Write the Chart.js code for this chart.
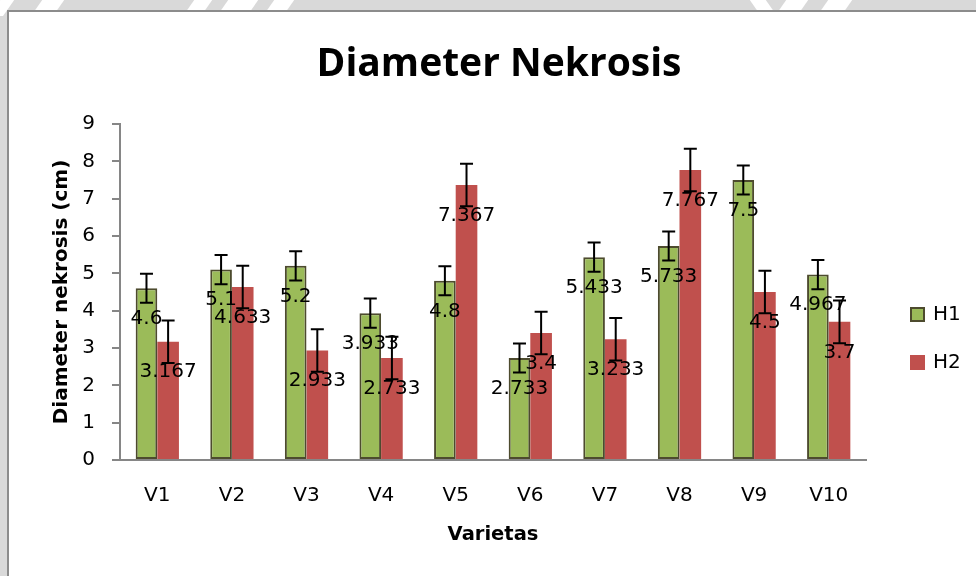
<!DOCTYPE html>
<html>
<head>
<meta charset="utf-8">
<script src="https://cdn.jsdelivr.net/npm/chart.js@4.4.1/dist/chart.umd.min.js"></script>
<style>
  html, body { margin: 0; padding: 0; }
  body { width: 976px; height: 576px; background: #d9d9d9; position: relative; overflow: hidden; }
  .streak { position: absolute; top: -4px; height: 20px; background: #fff; transform: skewX(-35deg); }
  #frame {
    position: absolute; left: 7px; top: 10px; width: 980px; height: 580px;
    background: #fff; border: 2px solid #8c8c8c;
  }
  #wrap { position: absolute; left: 9px; top: 12px; width: 967px; height: 564px; }
</style>
</head>
<body>
<!-- faint watermark strokes showing above the chart frame -->
<div class="streak" style="left:-4px;width:14px"></div>
<div class="streak" style="left:38px;width:22px"></div>
<div class="streak" style="left:190px;width:18px"></div>
<div class="streak" style="left:224px;width:30px"></div>
<div class="streak" style="left:270px;width:20px"></div>
<div class="streak" style="left:754px;width:16px;transform:skewX(35deg)"></div>
<div class="streak" style="left:782px;width:22px"></div>
<div class="streak" style="left:824px;width:24px"></div>
<div id="frame"></div>
<div id="wrap"><canvas id="chart" width="967" height="564"></canvas></div>
<script>
// values
const categories = ['V1', 'V2', 'V3', 'V4', 'V5', 'V6', 'V7', 'V8', 'V9', 'V10'];
const seriesNames = ['H1', 'H2'];
const h1Values = [4.6, 5.1, 5.2, 3.933, 4.8, 2.733, 5.433, 5.733, 7.5, 4.967];
const h2Values = [3.167, 4.633, 2.933, 2.733, 7.367, 3.4, 3.233, 7.767, 4.5, 3.7];
// error bar half-lengths (same for every bar of a series in the picture)
const h1Errors = [0.39, 0.39, 0.39, 0.39, 0.39, 0.39, 0.39, 0.39, 0.39, 0.39];
const h2Errors = [0.57, 0.57, 0.57, 0.57, 0.57, 0.57, 0.57, 0.57, 0.57, 0.57];
const yTicks = [0, 1, 2, 3, 4, 5, 6, 7, 8, 9];

const GREEN = '#9bbb59';
const RED = '#c0504d';
const AXIS = '#868686';
const LABEL_FONT = '20px "DejaVu Sans"';

// error bars + the data labels Excel puts just inside the bar end
const barExtras = {
    id: 'barExtras',
    afterDatasetsDraw(chart) {
        const { ctx } = chart;
        const y = chart.scales.y;
        ctx.save();
        chart.data.datasets.forEach((ds, di) => {
            const meta = chart.getDatasetMeta(di);
            meta.data.forEach((bar, i) => {
                const v = ds.data[i];
                const e = ds.errors[i];
                const top = y.getPixelForValue(v + e);
                const bottom = y.getPixelForValue(v - e);
                ctx.strokeStyle = '#000';
                ctx.lineWidth = 2;
                ctx.beginPath();
                ctx.moveTo(bar.x, top);
                ctx.lineTo(bar.x, bottom);
                ctx.moveTo(bar.x - 6.5, top);
                ctx.lineTo(bar.x + 6.5, top);
                ctx.moveTo(bar.x - 6.5, bottom);
                ctx.lineTo(bar.x + 6.5, bottom);
                ctx.stroke();
            });
        });
        ctx.font = LABEL_FONT;
        ctx.fillStyle = '#000';
        ctx.textAlign = 'center';
        ctx.textBaseline = 'middle';
        chart.data.datasets.forEach((ds, di) => {
            chart.getDatasetMeta(di).data.forEach((bar, i) => {
                ctx.fillText(String(ds.data[i]), bar.x, bar.y + 30.5);
            });
        });
        ctx.restore();
    },
};

// legend to the right of the plot, drawn from the dataset labels/colours
const sideLegend = {
    id: 'sideLegend',
    afterDraw(chart) {
        const { ctx, chartArea } = chart;
        ctx.save();
        ctx.font = LABEL_FONT;
        ctx.textBaseline = 'middle';
        ctx.textAlign = 'left';
        chart.data.datasets.forEach((ds, di) => {
            const x = chartArea.right + 44;
            const cy = chartArea.top + 190.5 + di * 48;
            ctx.fillStyle = ds.backgroundColor;
            ctx.fillRect(x, cy - 7.5, 15, 15);
            if (ds.borderWidth) {
                ctx.strokeStyle = ds.borderColor;
                ctx.lineWidth = 2;
                ctx.strokeRect(x + 1, cy - 6.5, 13, 13);
            }
            ctx.fillStyle = '#000';
            ctx.fillText(ds.label, x + 23, cy);
        });
        ctx.restore();
    },
};

new Chart(document.getElementById('chart'), {
    type: 'bar',
    data: {
        labels: categories,
        datasets: [
            {
                label: seriesNames[0],
                data: h1Values,
                errors: h1Errors,
                backgroundColor: GREEN,
                borderColor: '#4d4b2e',
                borderWidth: 2,
                borderSkipped: false,
            },
            {
                label: seriesNames[1],
                data: h2Values,
                errors: h2Errors,
                backgroundColor: RED,
                borderWidth: 0,
            },
        ],
    },
    options: {
        responsive: false,
        animation: false,
        events: [],
        layout: { padding: { left: 13, right: 0, top: 0, bottom: 29.6 } },
        categoryPercentage: 0.58,
        barPercentage: 1,
        plugins: {
            legend: { display: false },
            tooltip: { enabled: false },
            title: {
                display: true,
                text: 'Diameter Nekrosis',
                color: '#000',
                font: { family: 'Open Sans', weight: 'bold', size: 39 },
                padding: { top: 29.5, bottom: 35.7 },
            },
        },
        scales: {
            x: {
                grid: { display: false, drawTicks: false },
                border: { color: AXIS, width: 2 },
                ticks: { color: '#000', font: { family: 'DejaVu Sans', size: 20 }, padding: 23.5 },
                title: {
                    display: true,
                    text: 'Varietas',
                    color: '#000',
                    font: { family: 'DejaVu Sans', weight: 'bold', size: 19.5 },
                    padding: { top: -8, bottom: 0 },
                },
            },
            y: {
                min: 0,
                max: 9,
                afterFit(scale) { scale.width = 98; },
                afterBuildTicks(scale) { scale.ticks = yTicks.map((v) => ({ value: v })); },
                grid: { drawOnChartArea: false, drawTicks: true, tickLength: 8, color: AXIS, lineWidth: 2 },
                border: { color: AXIS, width: 2 },
                ticks: { color: '#000', font: { family: 'DejaVu Sans', size: 20 }, padding: 17 },
                title: {
                    display: true,
                    text: 'Diameter nekrosis (cm)',
                    color: '#000',
                    font: { family: 'DejaVu Sans', weight: 'bold', size: 20 },
                    padding: { top: 28, bottom: 0 },
                },
            },
            // empty right-hand scale that only reserves the legend's space
            legendSpace: {
                axis: 'y',
                position: 'right',
                display: true,
                afterFit(scale) { scale.width = 110; },
                grid: { display: false, drawTicks: false },
                border: { display: false },
                ticks: { display: false },
            },
        },
    },
    plugins: [barExtras, sideLegend],
});
</script>
</body>
</html>
